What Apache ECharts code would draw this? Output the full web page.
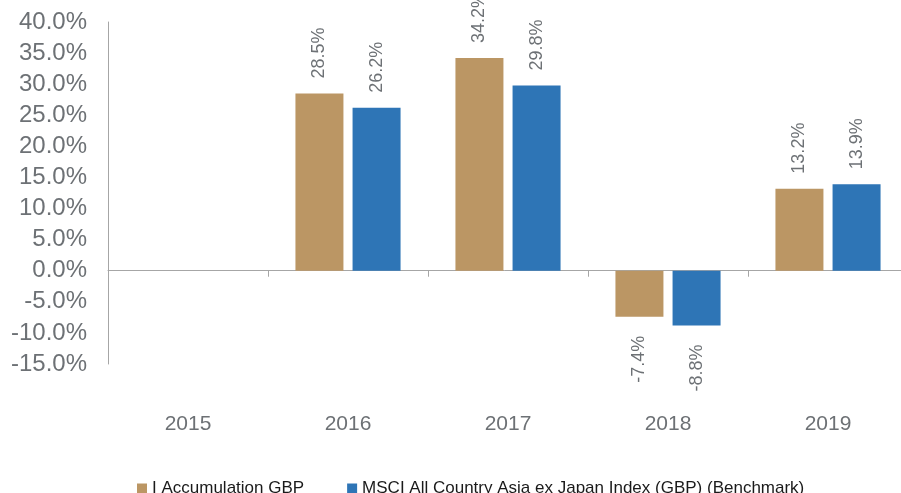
<!DOCTYPE html>
<html>
<head>
<meta charset="utf-8">
<script src="https://cdn.jsdelivr.net/npm/echarts@6/dist/echarts.min.js"></script>
<style>
  html, body { margin: 0; padding: 0; background: #ffffff; }
  #chart { width: 901px; height: 493px; }
</style>
</head>
<body>
<div id="chart"></div>
<script>
// Calendar-year performance data
const years = ['2015', '2016', '2017', '2018', '2019'];
const fundName = 'I Accumulation GBP';
const benchName = 'MSCI All Country Asia ex Japan Index (GBP) (Benchmark)';
const fundReturns = [null, 28.5, 34.2, -7.4, 13.2];
const benchReturns = [null, 26.2, 29.8, -8.8, 13.9];

const fundColor = '#BB9664';
const benchColor = '#2E75B6';
const textGrey = '#6D7175';
const axisGrey = '#A6A6A6';

// Rotated value labels: above positive bars, below negative ones
function withLabels(values) {
  return values.map(v => {
    if (v === null) return null;
    const neg = v < 0;
    return {
      value: v,
      label: {
        show: true,
        position: neg ? 'bottom' : 'top',
        rotate: 90,
        align: neg ? 'right' : 'left',
        verticalAlign: 'middle',
        distance: neg ? 19 : 15,
        formatter: p => p.value.toFixed(1) + '%',
        fontFamily: 'Liberation Sans, Arial, sans-serif',
        fontSize: 18,
        color: textGrey
      }
    };
  });
}

const chart = echarts.init(document.getElementById('chart'), null, { renderer: 'canvas' });
chart.setOption({
  animation: false,
  backgroundColor: '#ffffff',
  grid: {
    left: 108, right: -7, top: 22, bottom: 129,
    containLabel: false,
    outerBoundsMode: 'none'
  },
  legend: {
    left: 137,
    top: 480,
    padding: 0,
    itemWidth: 10,
    itemHeight: 10,
    itemGap: 43,
    icon: 'rect',
    textStyle: {
      fontFamily: 'Liberation Sans, Arial, sans-serif',
      fontSize: 17,
      color: '#1A1A1A'
    },
    data: [fundName, benchName]
  },
  xAxis: {
    type: 'category',
    data: years,
    axisLine: { onZero: true, lineStyle: { color: axisGrey, width: 1 } },
    axisTick: { show: true, length: 6, lineStyle: { color: axisGrey } },
    axisLabel: {
      margin: 50,
      fontFamily: 'Liberation Sans, Arial, sans-serif',
      fontSize: 21,
      color: textGrey
    }
  },
  yAxis: {
    type: 'value',
    min: -15,
    max: 40,
    interval: 5,
    axisLine: { show: true, lineStyle: { color: axisGrey, width: 1 } },
    axisTick: { show: false },
    splitLine: { show: false },
    axisLabel: {
      margin: 21,
      formatter: v => v.toFixed(1) + '%',
      fontFamily: 'Liberation Sans, Arial, sans-serif',
      fontSize: 24,
      color: textGrey
    }
  },
  series: [
    {
      name: fundName,
      type: 'bar',
      barWidth: 48,
      barGap: '19%',
      itemStyle: { color: fundColor },
      data: withLabels(fundReturns)
    },
    {
      name: benchName,
      type: 'bar',
      barWidth: 48,
      itemStyle: { color: benchColor },
      data: withLabels(benchReturns)
    }
  ]
});
</script>
</body>
</html>
